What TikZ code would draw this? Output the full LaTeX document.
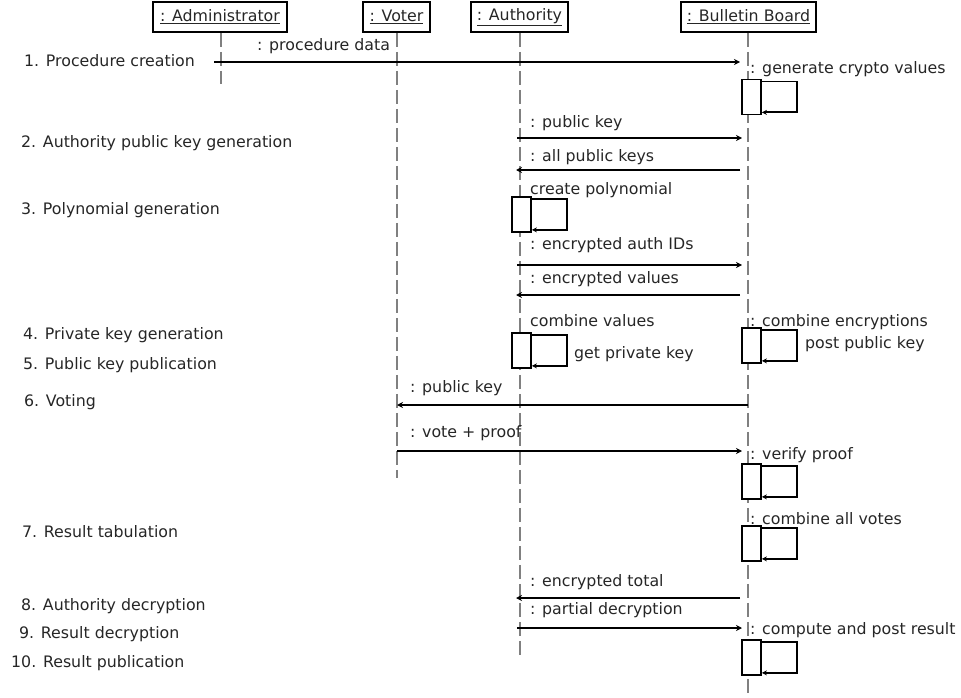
\documentclass[tikz,border=0pt]{standalone}
\usepackage{fontspec}
\setmainfont{DejaVu Sans}
\usetikzlibrary{arrows.meta,positioning}

\tikzset{
  every node/.style={font=\fontsize{15.8}{18}\selectfont, text=black!85},
  head/.style={draw=black, line width=1.8pt, minimum height=30pt, inner sep=0pt},
  life/.style={gray, line width=1.2pt, dash pattern=on 14pt off 5pt},
  msg/.style={line width=1.6pt, -{Stealth[length=6pt,width=6pt]}},
  self/.style={line width=1.8pt, -{Stealth[length=5pt,width=5pt]}},
  act/.style={draw=black, fill=white, line width=1.8pt, minimum width=19pt,
    minimum height=35pt, inner sep=0pt},
  txt/.style={anchor=base west, inner sep=0pt},
}

\begin{document}
\begin{tikzpicture}[x=1pt,y=-1pt]
  \useasboundingbox (0,0) rectangle (961,698);

  % the objects and their lifelines
  \node[head, minimum width=134pt] (admin) at (220,17) {\underline{: Administrator}};
  \node[head, minimum width=67pt] (voter) at (396.5,17) {\underline{: Voter}};
  \node[head, minimum width=97pt] (auth) at (519.5,17) {\underline{: Authority}};
  \node[head, minimum width=135pt] (board) at (748.5,17) {\underline{: Bulletin Board}};

  \coordinate (admin-end) at (221,84);
  \coordinate (voter-end) at (397,478);
  \coordinate (auth-end) at (520,655);
  \coordinate (board-end) at (748,698);
  \foreach \o in {admin,voter,auth,board}{
    \draw[life] (\o.south -| \o-end) -- (\o-end);
  }

  % activations
  \foreach \n/\x/\y in {b1/751.5/97, a1/521.5/214.5, a2/521.5/350.5, b2/751.5/345.5,
                        b3/751.5/481.5, b4/751.5/543.5, b5/751.5/657.5}{
    \node[act] (\n) at (\x,\y) {};
    \draw[self] ([yshift=-3pt]\n.north east) -- ++(35,0) |- ([yshift=3pt]\n.south east);
  }

  % messages
  \foreach \i/\xa/\xb/\y in {1/214/740/62, 2/517/742/138, 3/740/516/170, 4/517/742/265,
                             5/740/516/295, 6/748/397/405, 7/397/742/451,
                             8/740/516/598, 9/517/742/628}{
    \coordinate (s\i) at (\xa,\y);
    \coordinate (e\i) at (\xb,\y);
    \draw[msg] (s\i) -- (e\i);
  }

  % message labels
  \node[txt] (l1) at (257,51) {: procedure data};
  \node[txt] (l2) at (530,128) {: public key};
  \node[txt] (l3) at (530,161) {: all public keys};
  \node[txt] (l4) at (530,249) {: encrypted auth IDs};
  \node[txt] (l5) at (530,283) {: encrypted values};
  \node[txt] (l6) at (410,392) {: public key};
  \node[txt] (l7) at (410,437) {: vote + proof};
  \node[txt] (l8) at (530,586) {: encrypted total};
  \node[txt] (l9) at (530,614) {: partial decryption};

  % self call labels
  \node[txt] (c1) at (750,74) {: generate crypto values};
  \node[txt] (c2) at (530,194) {create polynomial};
  \node[txt] (c3) at (530,326) {combine values};
  \node[txt] (c4) at (574,358) {get private key};
  \node[txt] (c5) at (750,326) {: combine encryptions};
  \node[txt] (c6) at (805,348) {post public key};
  \node[txt] (c7) at (750,459) {: verify proof};
  \node[txt] (c8) at (750,524) {: combine all votes};
  \node[txt] (c9) at (750,634) {: compute and post result};

  % phases
  \node[txt] (p1) at (24,67) {1. Procedure creation};
  \node[txt] (p2) at (21,147) {2. Authority public key generation};
  \node[txt] (p3) at (21,214) {3. Polynomial generation};
  \node[txt] (p4) at (23,339) {4. Private key generation};
  \node[txt] (p5) at (23,369) {5. Public key publication};
  \node[txt] (p6) at (24,406) {6. Voting};
  \node[txt] (p7) at (22,537) {7. Result tabulation};
  \node[txt] (p8) at (21,610) {8. Authority decryption};
  \node[txt] (p9) at (19,638) {9. Result decryption};
  \node[txt] (p10) at (11,667) {10. Result publication};
\end{tikzpicture}
\end{document}
